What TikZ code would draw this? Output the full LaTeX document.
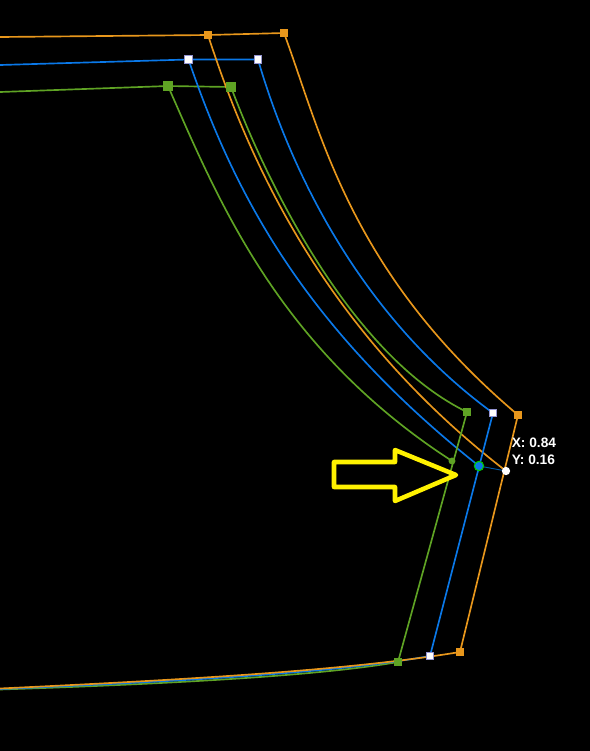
\documentclass[tikz,border=0pt]{standalone}
\usepackage{fontspec}
\setmainfont{Liberation Sans}
\definecolor{org}{HTML}{E8971C}
\definecolor{blu}{HTML}{0A78E8}
\definecolor{grn}{HTML}{5FA324}
\definecolor{yel}{HTML}{FFF200}
\tikzset{
  hnd/.style={rectangle,minimum size=#1,inner sep=0pt,outer sep=0pt},
  orgh/.style={hnd=6.4pt,fill=org},
  bluh/.style={hnd=5.6pt,fill=white,draw=gray!60!blue!60,line width=0.75pt},
  grnh/.style={hnd=6.4pt,fill=grn},
  wdot/.style={circle,fill=white,minimum size=6.2pt,inner sep=0pt},
  gdot/.style={circle,fill=grn,minimum size=5.2pt,inner sep=0pt},
  bdot/.style={circle,fill=blu,draw=green!80!black,line width=0.8pt,minimum size=7pt,inner sep=0pt},
  orgl/.style={draw=org,line width=1.25pt},
  blul/.style={draw=blu,line width=1.25pt},
  grnl/.style={draw=grn,line width=1.25pt},
  lbl/.style={text=white,font=\fontsize{10.3pt}{11pt}\selectfont\bfseries,anchor=west,inner sep=0pt}
}
\begin{document}
\begin{tikzpicture}[x=0.75pt,y=-0.75pt]
\fill[black] (0,0) rectangle (590,751);
\useasboundingbox (0,0) rectangle (590,751);
% free ends
\coordinate (oL) at (0,37);
\coordinate (bL) at (0,65);
\coordinate (gL) at (0,92);
\coordinate (oB) at (0,688.5);
\coordinate (bB) at (0,689);
\coordinate (gB) at (0,689.5);
% anchors
\coordinate (o1) at (208,35);
\coordinate (o2) at (284,33);
\coordinate (o3) at (518,415);
\coordinate (o4) at (460,652);
\coordinate (b1) at (188.5,59.5);
\coordinate (b2) at (258,59.5);
\coordinate (b3) at (493,413);
\coordinate (b4) at (430,656);
\coordinate (g1) at (168,86);
\coordinate (g2) at (231,87);
\coordinate (g3) at (467,412);
\coordinate (g4) at (398,662);
\coordinate (w) at (506,471);
\coordinate (gd) at (452,461);
\coordinate (bd) at (479,466);
% curves
\draw[grnl] (gL) -- (g1) -- (g2);
\draw[blul] (bL) -- (b1) -- (b2);
\draw[orgl] (oL) -- (o1) -- (o2);
\draw[grnl] (g2) .. controls (262,170) and (346,353) .. (g3);
\draw[grnl] (g1) .. controls (219,202) and (279,349) .. (gd);
\draw[orgl] (o2) .. controls (321,133) and (350,273) .. (o3);
\draw[orgl] (o1) .. controls (250,165) and (326,332) .. (w);
\draw[blul] (b2) .. controls (288,163) and (356,313) .. (b3);
\draw[blul] (b1) .. controls (235,196) and (306,329) .. (bd);
\draw[orgl] (o3) -- (o4);
\draw[blul] (b3) -- (b4);
\draw[grnl] (g3) -- (g4);
\draw[grnl] (g4) .. controls (330,674) and (200,683) .. (gB);
\draw[blul] (b4) .. controls (340,672) and (200,680.5) .. (bB);
\draw[orgl] (o4) .. controls (350,670) and (200,679) .. (oB);
\draw[draw=teal!70!blue,line width=0.7pt] (bd) -- (w);
% handles
\node[orgh] (no1) at (o1) {};
\node[orgh] (no2) at (o2) {};
\node[orgh] (no3) at (o3) {};
\node[orgh] (no4) at (o4) {};
\node[bluh] (nb1) at (b1) {};
\node[bluh] (nb2) at (b2) {};
\node[bluh] (nb3) at (b3) {};
\node[bluh] (nb4) at (b4) {};
\node[grnh,hnd=6.9pt] (ng1) at (g1) {};
\node[grnh,hnd=6.9pt] (ng2) at (g2) {};
\node[grnh] (ng3) at (g3) {};
\node[grnh] (ng4) at (g4) {};
\node[wdot] (nw) at (w) {};
\node[gdot] (ngd) at (gd) {};
\node[bdot] (nbd) at (bd) {};
% arrow
\draw[yel,line width=3.4pt,line join=round] (334,462) -- (395,462) -- (395,450) -- (456,475) -- (395,501) -- (395,487) -- (334,487) -- cycle;
% labels
\node[lbl] (lx) at (511.5,442.5) {X: 0.84};
\node[lbl] (ly) at (511.5,459.5) {Y: 0.16};
\end{tikzpicture}
\end{document}
